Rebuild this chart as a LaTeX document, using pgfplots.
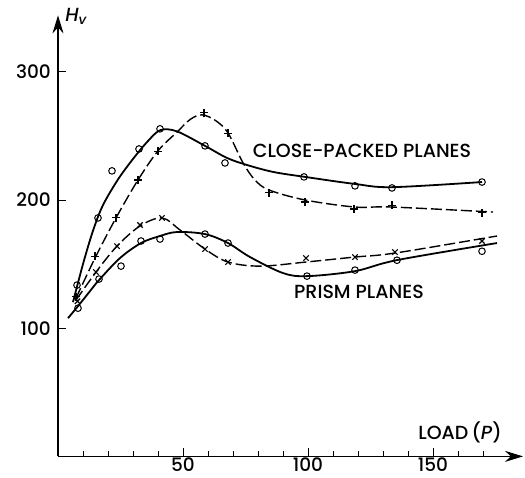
\documentclass[border=0pt]{standalone}
\usepackage{pgfplots}
\pgfplotsset{compat=1.18}
\usepackage{fontspec}
\setmainfont{Poppins}[UprightFont={* Medium}, ItalicFont={* Medium Italic}]
\usetikzlibrary{arrows.meta}

\pgfplotstableread{
x y
7.6 133.6
16 186
21.6 222.7
32.4 239.8
40.8 255.5
58.8 242.2
66.8 228.9
98.4 218
118.8 211
133.6 209.4
169.6 214
}\cpcirc
\pgfplotstableread{
x y
7.2 124.5
14.8 156
23.2 186
32 215.6
40 238
58.4 268
68 252
84.4 205.5
98.8 198.4
118.4 193
133.6 196
169.6 190
}\cpplus
\pgfplotstableread{
x y
7.8 121
15.2 143.75
23.6 164
32.8 180.5
41.6 186
58.8 161.7
68 151.6
99.2 154.7
118.8 155.5
134.8 159.4
169.6 168
}\prx
\pgfplotstableread{
x y
8 115.6
16.4 138.3
25.2 148.4
33.2 168
40.8 169.5
58.8 173.4
68 166.4
99.6 140.6
118.8 145.3
135.6 153
169.6 160
}\prcirc

\begin{document}
\begin{tikzpicture}
\begin{axis}[
  scale only axis, width=465pt, height=441pt,
  xmin=0, xmax=186, ymin=0, ymax=344,
  axis lines=left,
  axis line style={line width=1.1pt, -{Stealth[length=18pt,width=11pt]}},
  xtick={50,100,150},
  minor xtick={10,20,30,40,60,70,80,90,110,120,130,140,160,170},
  ytick={100,200,300},
  tick align=inside,
  major tick length=8pt, minor tick length=5pt,
  every tick/.style={line width=0.9pt, black},
  ticklabel style={font=\fontsize{18.5}{18.5}\selectfont},
  xticklabel style={inner ysep=0pt, yshift=-1.5pt},
  yticklabel style={inner xsep=0pt, xshift=-7pt},
  /pgf/number format/assume math mode=true,
  clip=false,
]
\draw[draw=none] (axis cs:-23.2,-16.5) rectangle (axis cs:186.8,356);

% curves
\addplot[black, line width=1.8pt, smooth, tension=0.55] coordinates {
(6,120.3) (10,150) (14,176) (18,196) (24,216) (30,232) (36,246) (41,254.5)
(47.6,253.5) (58.8,242.2) (67.6,232.8) (75.6,227.3) (86,221.9) (98.8,218)
(118.8,212.5) (133.6,210) (169.6,214)};
\addplot[black, line width=1.4pt, smooth, tension=0.55, dash pattern=on 11pt off 4pt] coordinates {
(7.2,123.4) (14.8,154.7) (23.2,186) (32,215.6) (40,238.3) (47.6,253) (53,263)
(57.6,266.4) (63,262) (68,252.3) (74,229) (78.8,215.6) (84.4,207.8) (98.8,200)
(118.8,194.5) (133.6,194.5) (174,190.6)};
\addplot[black, line width=1.4pt, smooth, tension=0.55, dash pattern=on 11pt off 4pt] coordinates {
(7.2,121.9) (15.2,143.75) (23.6,164) (32.8,179.7) (41.6,186) (48.8,176.6)
(58.8,161.7) (68,151.6) (80.8,148.4) (99.2,151.6) (118.8,155.5) (134.8,158.6)
(175.6,171.9)};
\addplot[black, line width=1.8pt, smooth, tension=0.55] coordinates {
(4,107.8) (8,117.2) (12.8,128.9) (16.4,137.5) (24.8,154.7) (33.2,166.4)
(40.8,171.9) (47.6,175) (58.8,173.4) (68,166.4) (76.8,155.5) (90,143)
(99.6,140.6) (118.8,144.5) (135.6,153.1) (175.6,166.4)};

% markers
\addplot[only marks, mark=o, mark size=3.3pt, mark options={fill=white, line width=1pt}] table {\cpcirc};
\addplot[only marks, mark=+, mark size=4pt, mark options={line width=1.1pt}] table {\cpplus};
\addplot[only marks, mark=x, mark size=3.8pt, mark options={line width=1.1pt}] table {\prx};
\addplot[only marks, mark=o, mark size=3.3pt, mark options={fill=white, line width=1pt}] table {\prcirc};

\node[font=\fontsize{19}{19}\selectfont] at (axis cs:121.6,238.3) {CLOSE-PACKED PLANES};
\node[font=\fontsize{19}{19}\selectfont] at (axis cs:120.4,128) {PRISM PLANES};
\node[font=\fontsize{19}{19}\selectfont] at (axis cs:160.8,18.75) {LOAD\,(\textit{P})};
\node[anchor=west, font=\fontsize{19}{19}\selectfont] at (axis cs:1.5,343) {\textit{H}\textsubscript{\textit{v}}};
\end{axis}
\end{tikzpicture}
\end{document}
